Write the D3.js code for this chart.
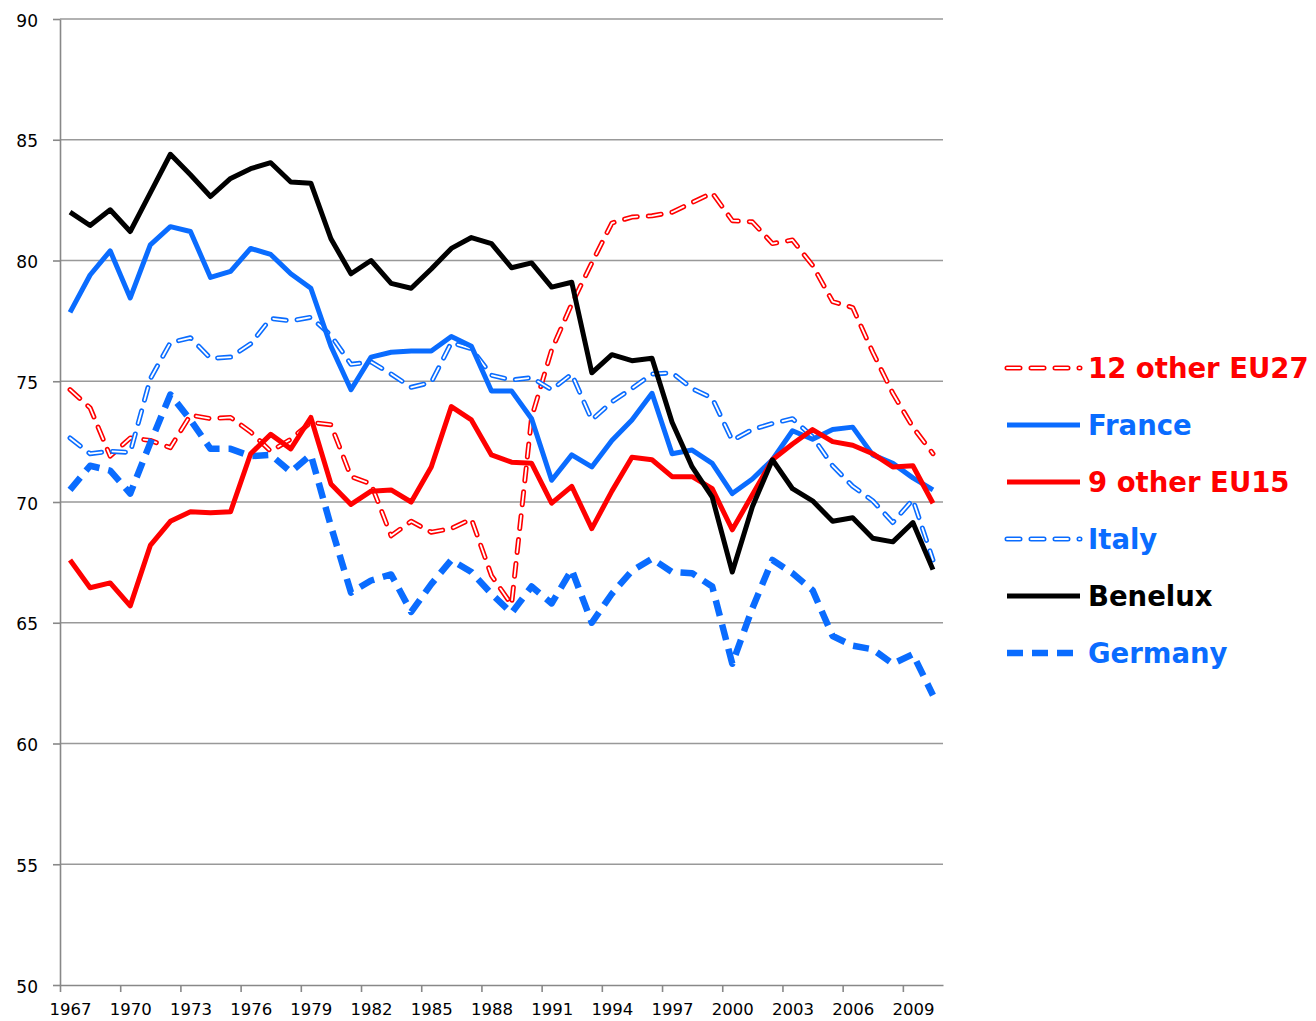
<!DOCTYPE html>
<html>
<head>
<meta charset="utf-8">
<script src="https://cdn.jsdelivr.net/npm/d3@7"></script>
<style>
  body { margin: 0; background: #fff; }
  svg { display: block; }
</style>
</head>
<body>
<div id="chart"></div>
<script>
// employment-style index, 1967-2010, six country groups

var years = [1967, 1968, 1969, 1970, 1971, 1972, 1973, 1974, 1975, 1976, 1977,
  1978, 1979, 1980, 1981, 1982, 1983, 1984, 1985, 1986, 1987, 1988, 1989,
  1990, 1991, 1992, 1993, 1994, 1995, 1996, 1997, 1998, 1999, 2000, 2001,
  2002, 2003, 2004, 2005, 2006, 2007, 2008, 2009, 2010]

var yTicks = [50, 55, 60, 65, 70, 75, 80, 85, 90]

var other27 = [74.65, 73.9, 71.9, 72.65, 72.55, 72.25, 73.6, 73.45, 73.5, 72.9, 72.1,
  72.6, 73.3, 73.2, 71.05, 70.75, 68.6, 69.2, 68.75, 68.9, 69.3, 66.95, 65.75,
  73.5, 76.3, 78.2, 79.9, 81.55, 81.8, 81.85, 82.0, 82.4, 82.8, 81.65, 81.6,
  80.7, 80.85, 79.8, 78.3, 78.05, 76.2, 74.5, 73.1, 72.0]

var france = [77.85, 79.4, 80.4, 78.45, 80.65, 81.4, 81.2, 79.3, 79.55, 80.5, 80.25,
  79.45, 78.85, 76.45, 74.65, 76.0, 76.2, 76.25, 76.25, 76.85, 76.45, 74.6, 74.6,
  73.45, 70.9, 71.95, 71.45, 72.55, 73.4, 74.5, 72.0, 72.15, 71.6, 70.35, 70.95,
  71.75, 72.95, 72.6, 73.0, 73.1, 71.95, 71.6, 71.0, 70.5]

var other15 = [67.6, 66.45, 66.65, 65.7, 68.2, 69.2, 69.6, 69.55, 69.6, 72.0, 72.8,
  72.2, 73.5, 70.75, 69.9, 70.45, 70.5, 70.0, 71.45, 73.95, 73.4, 71.95, 71.65,
  71.6, 69.95, 70.65, 68.9, 70.45, 71.85, 71.75, 71.05, 71.05, 70.55, 68.85, 70.3,
  71.75, 72.4, 73.0, 72.5, 72.35, 72.0, 71.45, 71.5, 69.95]

var italy = [72.65, 72.0, 72.1, 72.05, 75.1, 76.6, 76.8, 75.95, 76.0, 76.55, 77.6,
  77.5, 77.65, 76.9, 75.7, 75.8, 75.3, 74.75, 74.95, 76.6, 76.35, 75.25, 75.05,
  75.15, 74.65, 75.3, 73.4, 74.15, 74.7, 75.3, 75.35, 74.7, 74.3, 72.55, 73.0,
  73.25, 73.45, 72.7, 71.5, 70.65, 70.05, 69.15, 70.1, 67.6]

var benelux = [82.0, 81.45, 82.1, 81.2, 82.8, 84.4, 83.55, 82.65, 83.4, 83.8, 84.05,
  83.25, 83.2, 80.9, 79.45, 80.0, 79.05, 78.85, 79.65, 80.5, 80.95, 80.7, 79.7,
  79.9, 78.9, 79.1, 75.35, 76.1, 75.85, 75.95, 73.3, 71.45, 70.2, 67.1, 69.8,
  71.75, 70.55, 70.05, 69.2, 69.35, 68.5, 68.35, 69.15, 67.2]

var germany = [70.5, 71.5, 71.3, 70.35, 72.45, 74.45, 73.4, 72.2, 72.2, 71.9, 71.95,
  71.25, 71.95, 69.0, 66.25, 66.75, 67.0, 65.45, 66.6, 67.6, 67.1, 66.2, 65.4,
  66.5, 65.8, 67.2, 65.0, 66.2, 67.15, 67.65, 67.1, 67.05, 66.5, 63.3, 65.6,
  67.6, 67.05, 66.35, 64.45, 64.05, 63.9, 63.3, 63.7, 62.0]

var RED = "#ff0000"
var BLUE = "#0a6cff"

// style: solid, hollow (outlined dashes) or dash
var series = [
  { name: "12 other EU27", values: other27, color: RED, style: "hollow" },
  { name: "France", values: france, color: BLUE, style: "solid" },
  { name: "9 other EU15", values: other15, color: RED, style: "solid" },
  { name: "Italy", values: italy, color: BLUE, style: "hollow" },
  { name: "Benelux", values: benelux, color: "#000", style: "solid" },
  { name: "Germany", values: germany, color: BLUE, style: "dash" }
]
// drawing order (back to front)
var drawOrder = ["12 other EU27", "Italy", "Germany", "France", "9 other EU15", "Benelux"]

var width = 1316
var height = 1021
var margin = ({ top: 19, right: 373, bottom: 36, left: 60 })

var svg = d3.select("#chart")
  .append("svg")
  .attr("width", width)
  .attr("height", height)

var x = d3.scaleLinear()
  .domain([-0.5, years.length - 0.5])
  .range([margin.left, width - margin.right])

var y = d3.scaleLinear()
  .domain([50, 90])
  .range([height - margin.bottom, margin.top])

// gridlines
svg.append("g")
  .selectAll("line")
  .data(yTicks.slice(1))
  .join("line")
  .attr("x1", margin.left)
  .attr("x2", width - margin.right)
  .attr("y1", d => y(d))
  .attr("y2", d => y(d))
  .attr("stroke", "#999")
  .attr("stroke-width", 1.3)

// y axis
svg.append("g")
  .attr("transform", `translate(${margin.left},0)`)
  .call(d3.axisLeft(y).tickValues(yTicks).tickSize(7).tickPadding(15).tickSizeOuter(0))
  .call(g => g.selectAll("line, path").attr("stroke", "#888").attr("stroke-width", 1.6))
  .call(g => g.selectAll("text")
    .attr("font-family", "DejaVu Sans, sans-serif")
    .attr("font-size", 17)
    .attr("fill", "#000")
    .attr("dy", "0.42em"))

// x axis: tick marks between categories, every 3 years
var boundaries = d3.range(0, years.length, 3).map(i => i - 0.5)
svg.append("g")
  .attr("transform", `translate(0,${height - margin.bottom})`)
  .call(d3.axisBottom(x).tickValues(boundaries).tickSize(7).tickFormat("").tickSizeOuter(0))
  .call(g => g.selectAll("line, path").attr("stroke", "#888").attr("stroke-width", 1.6))

// x labels at category centres
var labelIdx = d3.range(0, years.length, 3)
svg.append("g")
  .attr("transform", `translate(0,${height - margin.bottom})`)
  .call(d3.axisBottom(x).tickValues(labelIdx).tickSize(0).tickPadding(18).tickFormat(i => years[i]))
  .call(g => g.select(".domain").remove())
  .call(g => g.selectAll("text")
    .attr("font-family", "DejaVu Sans, sans-serif")
    .attr("font-size", 16.5)
    .attr("fill", "#000"))

var line = d3.line()
  .x((d, i) => x(i))
  .y(d => y(d))

// apply a line style to a selection of paths
function styleLine(sel, s, part) {
  if (s.style === "solid") {
    sel.attr("stroke", s.color).attr("stroke-width", 5)
  } else if (s.style === "dash") {
    sel.attr("stroke", s.color).attr("stroke-width", 6.5).attr("stroke-dasharray", "16,9")
  } else if (part === "outer") {
    sel.attr("stroke", s.color).attr("stroke-width", 5)
      .attr("stroke-dasharray", "13,11").attr("stroke-linecap", "round")
  } else {
    sel.attr("stroke", "#fff").attr("stroke-width", 1.8)
      .attr("stroke-dasharray", "13,11").attr("stroke-linecap", "round")
  }
}

var lines = svg.append("g")
  .attr("fill", "none")
  .attr("stroke-linejoin", "round")

drawOrder.forEach(function (name) {
  var s = series.find(d => d.name === name)
  lines.append("path")
    .attr("d", line(s.values))
    .call(styleLine, s, "outer")
  if (s.style === "hollow") {
    lines.append("path")
      .attr("d", line(s.values))
      .call(styleLine, s, "inner")
  }
})

// legend
var legend = svg.append("g")
  .attr("transform", "translate(1007,368)")

var item = legend.selectAll("g")
  .data(series)
  .join("g")
  .attr("transform", (d, i) => `translate(0,${i * 57})`)

item.each(function (s) {
  var g = d3.select(this)
  g.append("line")
    .attr("x1", 0).attr("x2", 73)
    .call(styleLine, s, "outer")
  if (s.style === "hollow") {
    g.append("line")
      .attr("x1", 0).attr("x2", 73)
      .call(styleLine, s, "inner")
  }
  g.append("text")
    .attr("x", 81)
    .attr("dy", "0.36em")
    .attr("font-family", "DejaVu Sans, sans-serif")
    .attr("font-weight", "bold")
    .attr("font-size", 27.5)
    .attr("fill", s.color)
    .text(s.name)
})
</script>
</body>
</html>
